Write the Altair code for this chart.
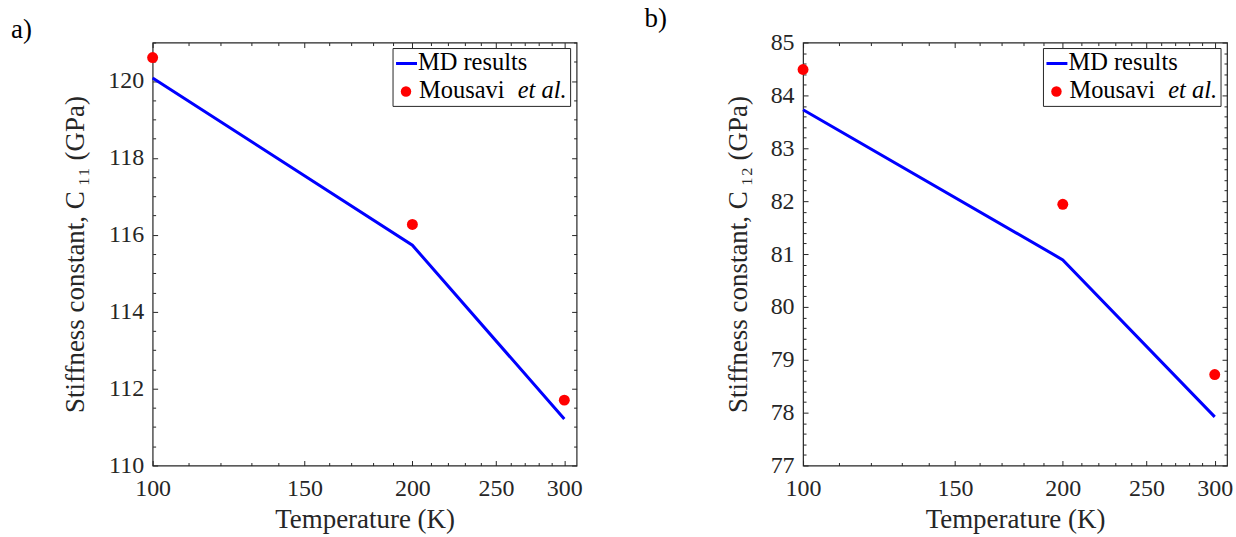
import altair as alt
import pandas as pd

# ---------------- data ----------------
TEMPS = [100, 200, 300]
MD_C11 = [120.08, 115.73, 111.21]
MOUSAVI_C11 = [120.61, 116.27, 111.70]
MD_C12 = [83.73, 80.89, 77.92]
MOUSAVI_C12 = [84.49, 81.94, 78.72]

X_DOMAIN = [100, 310]
X_MAJOR = [100, 150, 200, 250, 300]
X_MINOR = [110, 120, 130, 140, 160, 170, 180, 190,
           210, 220, 230, 240, 260, 270, 280, 290]

YA_DOMAIN = [110, 121]
YA_MAJOR = [110, 112, 114, 116, 118, 120]
YA_MINOR = [110.5, 111, 111.5, 112.5, 113, 113.5, 114.5, 115, 115.5,
            116.5, 117, 117.5, 118.5, 119, 119.5, 120.5, 121]

YB_DOMAIN = [77, 85]
YB_MAJOR = [77, 78, 79, 80, 81, 82, 83, 84, 85]
YB_MINOR = [round(77 + i / 5, 1) for i in range(41) if i % 5]

X_TITLE = "Temperature (K)"
YA_TITLE = "Stiffness constant, C\u2009\u2081\u2081 (GPa)"
YB_TITLE = "Stiffness constant, C\u2009\u2081\u2082 (GPa)"
PANEL_TAGS = ["a)", "b)"]
LEGEND_LABELS = ["MD results", "Mousavi", "et al."]

# ---------------- style ----------------
FONT = "Liberation Serif"
INK = "#262626"
BLUE = "#0000FF"
RED = "#FF0000"
W, H = 425, 424
LABEL_FS = 24
TITLE_FS = 27
LEGEND_FS = 24.5


def tick_axis(orient, values, size):
    return alt.Axis(orient=orient, values=values, labels=False, domain=False,
                    ticks=True, tickSize=size, offset=-size, title=None,
                    grid=False, tickColor=INK, tickWidth=1)


def panel(tag, tag_dx, md, mous, ydom, ymaj, ymin, ytitle):
    line_df = pd.DataFrame({"T": TEMPS, "C": md})
    pts_df = pd.DataFrame({"T": TEMPS, "C": mous})
    xs = alt.Scale(type="log", domain=X_DOMAIN, nice=False)
    ys = alt.Scale(domain=ydom, nice=False, zero=False)

    def enc(xaxis, yaxis):
        return dict(x=alt.X("T:Q", scale=xs, axis=xaxis),
                    y=alt.Y("C:Q", scale=ys, axis=yaxis))

    line = alt.Chart(line_df).mark_line(color=BLUE, strokeWidth=3).encode(**enc(
        alt.Axis(orient="bottom", values=X_MAJOR, format="d", ticks=False,
                 domain=False, grid=False, labelFlush=False, labelPadding=11,
                 title=X_TITLE, titlePadding=6),
        alt.Axis(orient="left", values=ymaj, format="d", ticks=False,
                 domain=False, grid=False, labelFlush=False, labelPadding=9,
                 title=ytitle, titlePadding=18)))

    pts = alt.Chart(pts_df).mark_circle(color=RED, size=120, opacity=1).encode(**enc(
        tick_axis("bottom", X_MAJOR, 5), tick_axis("left", ymaj, 5)))

    inv = lambda xa, ya: alt.Chart(pts_df).mark_point(opacity=0).encode(**enc(xa, ya))
    minor_bl = inv(tick_axis("bottom", X_MINOR, 3), tick_axis("left", ymin, 3))
    major_tr = inv(tick_axis("top", X_MAJOR, 5), tick_axis("right", ymaj, 5))
    minor_tr = inv(tick_axis("top", X_MINOR, 3), tick_axis("right", ymin, 3))

    one = pd.DataFrame({"k": [0]})
    leg_box = alt.Chart(one).mark_rect(fill="white", stroke=INK, strokeWidth=1).encode(
        x=alt.value(241), x2=alt.value(419), y=alt.value(6), y2=alt.value(64))
    leg_line = alt.Chart(one).mark_rule(color=BLUE, strokeWidth=3).encode(
        x=alt.value(244), x2=alt.value(265), y=alt.value(21))
    leg_dot = alt.Chart(one).mark_circle(color=RED, size=110, opacity=1).encode(
        x=alt.value(254), y=alt.value(49))

    def leg_text(label, x, y, style="normal"):
        return alt.Chart(pd.DataFrame({"label": [label]})).mark_text(
            align="left", baseline="middle", font=FONT, fontSize=LEGEND_FS,
            color="black", fontStyle=style).encode(
            x=alt.value(x), y=alt.value(y), text="label:N")

    leg_t1 = leg_text(LEGEND_LABELS[0], 266, 21)
    leg_t2 = leg_text(LEGEND_LABELS[1], 267, 49)
    leg_t3 = leg_text(LEGEND_LABELS[2], 366, 49, "italic")

    return alt.layer(line, pts, minor_bl, major_tr, minor_tr,
                     leg_box, leg_line, leg_dot, leg_t1, leg_t2, leg_t3).resolve_axis(
        x="independent", y="independent").properties(
        width=W, height=H,
        title=alt.TitleParams(text=tag, anchor="start", frame="group", dx=tag_dx,
                              offset=-2, fontSize=TITLE_FS, font=FONT,
                              fontWeight="normal", color="black"))


pa = panel(PANEL_TAGS[0], -142, MD_C11, MOUSAVI_C11, YA_DOMAIN, YA_MAJOR, YA_MINOR, YA_TITLE)
pb = panel(PANEL_TAGS[1], -159, MD_C12, MOUSAVI_C12, YB_DOMAIN, YB_MAJOR, YB_MINOR, YB_TITLE)

chart = alt.hconcat(pa, pb, spacing=60).properties(
    padding={"left": 10, "top": 3, "right": 2, "bottom": 1}
).configure_view(stroke=INK, strokeWidth=1.2).configure_axis(
    labelFont=FONT, labelFontSize=LABEL_FS, labelColor=INK,
    titleFont=FONT, titleFontSize=TITLE_FS, titleFontWeight="normal", titleColor=INK
).configure_title(font=FONT, fontSize=TITLE_FS, fontWeight="normal", color="black")

chart.save("out.html", embed_options={"renderer": "svg", "actions": False})
